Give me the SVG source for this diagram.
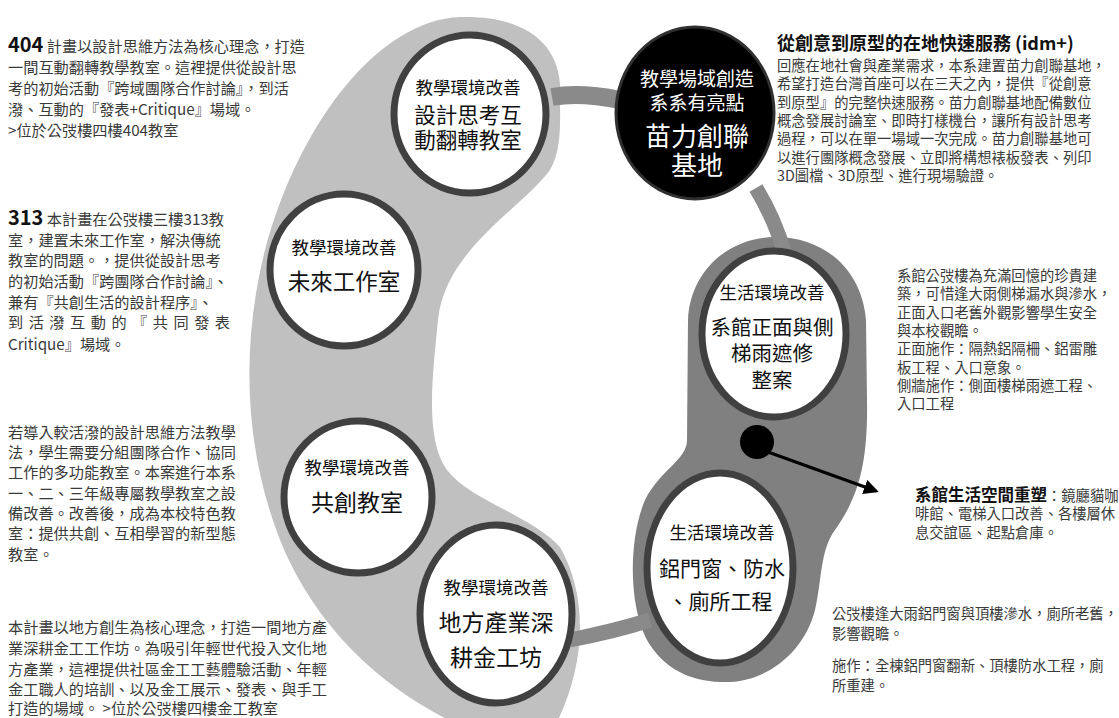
<svg xmlns="http://www.w3.org/2000/svg" width="1119" height="718" viewBox="0 0 1119 718">
<style>
text{font-family:"Noto Sans CJK TC","Noto Sans CJK SC",sans-serif;}
.body{font-size:15.2px;fill:#3a3a3a;}
.rb{font-size:14.3px;fill:#3a3a3a;}
.num{font-size:20px;font-weight:bold;fill:#111;}
.node{fill:#fff;stroke:#404040;stroke-width:7;}
.sub{font-size:17.5px;fill:#111;text-anchor:middle;}
.main{font-size:21.5px;fill:#111;text-anchor:middle;}
.wt{fill:#fff;text-anchor:middle;}
.conn{fill:none;stroke:#8a8a8a;stroke-linecap:butt;}
</style>
<defs>
<marker id="ah" viewBox="0 0 10 10" refX="8" refY="5" markerWidth="5" markerHeight="5" orient="auto"><path d="M0,0 L10,5 L0,10 z" fill="#000"/></marker>
</defs>
<rect width="1119" height="718" fill="#fff"/>
<g id="bands">
<path d="M560,100 C565,40 520,15 460,17 C380,20 300,120 265,250 C240,350 245,450 280,540 C320,640 400,700 470,730 L553,730 C585,670 590,600 560,547 C530,515 470,500 447,470 C425,440 432,380 438,320 C445,250 520,210 550,170 C562,150 560,120 560,100 Z" fill="#c0c0c0"/>
<path d="M775,237 C730,237 690,270 688,320 L687,440 C687,460 660,470 645,500 C628,540 628,610 650,645 C670,675 700,683 730,682 C770,680 805,650 815,610 C822,580 820,550 835,530 C860,495 868,460 867,400 L866,320 C862,270 825,237 775,237 Z" fill="#808080"/>
</g>
<g id="connectors">
<path class="conn" d="M552,97 C575,93 600,96 620,100" stroke-width="18"/>
<path class="conn" d="M756,188 C768,208 778,230 784,252" stroke-width="15"/>
<path class="conn" d="M570,640 C600,634 625,628 650,620" stroke-width="15" stroke="#7f7f7f"/>
<line x1="768" y1="452" x2="876" y2="491" stroke="#000" stroke-width="3" marker-end="url(#ah)"/>
</g>
<g id="node-404">
<ellipse class="node" cx="470" cy="114" rx="76" ry="79"/>
<text class="sub" x="468" y="94">教學環境改善</text>
<text class="main" x="468" y="123">設計思考互</text>
<text class="main" x="468" y="148">動翻轉教室</text>
</g>
<g id="node-313">
<ellipse class="node" cx="344" cy="270" rx="74" ry="76"/>
<text class="sub" x="344" y="254">教學環境改善</text>
<text class="main" x="344" y="290" style="font-size:22.5px">未來工作室</text>
</g>
<g id="node-cocreate">
<ellipse class="node" cx="358" cy="497" rx="74" ry="76"/>
<text class="sub" x="357" y="474">教學環境改善</text>
<text class="main" x="357" y="511" style="font-size:23px">共創教室</text>
</g>
<g id="node-metal">
<ellipse class="node" cx="496" cy="614" rx="76" ry="89"/>
<text class="sub" x="496" y="594">教學環境改善</text>
<text class="main" x="496" y="631" style="font-size:23px">地方產業深</text>
<text class="main" x="496" y="666" style="font-size:23px">耕金工坊</text>
</g>
<g id="node-idm">
<ellipse cx="695" cy="113" rx="79" ry="86" fill="#000" stroke="#303030" stroke-width="3"/>
<text class="wt" x="697" y="86" style="font-size:19px">教學場域創造</text>
<text class="wt" x="697" y="110" style="font-size:19px">系系有亮點</text>
<text class="wt" x="697" y="146" style="font-size:26px">苗力創聯</text>
<text class="wt" x="697" y="175" style="font-size:26px">基地</text>
</g>
<g id="node-facade">
<ellipse class="node" cx="774" cy="334" rx="72" ry="83"/>
<text class="sub" x="772" y="299">生活環境改善</text>
<text class="main" x="772" y="335" style="font-size:20.5px">系館正面與側</text>
<text class="main" x="772" y="361" style="font-size:20.5px">梯雨遮修</text>
<text class="main" x="772" y="388" style="font-size:20.5px">整案</text>
</g>
<g id="node-space">
<circle cx="757" cy="442" r="17" fill="#000"/>
</g>
<g id="node-window">
<ellipse class="node" cx="720" cy="568" rx="73" ry="95"/>
<text class="sub" x="722" y="539">生活環境改善</text>
<text class="main" x="722" y="576" style="font-size:21px">鋁門窗、防水</text>
<text class="main" x="720" y="609" style="font-size:21px">、廁所工程</text>
</g>
<g id="text-left">
<text class="body" x="8" y="52"><tspan class="num">404</tspan> 計畫以設計思維方法為核心理念，打造</text>
<text class="body" x="8" y="73">一間互動翻轉教學教室。這裡提供從設計思</text>
<text class="body" x="8" y="94">考的初始活動『跨域團隊合作討論』，到活</text>
<text class="body" x="8" y="115">潑、互動的『發表+Critique』場域。</text>
<text class="body" x="8" y="136">&gt;位於公弢樓四樓404教室</text>

<text class="body" x="8" y="225"><tspan class="num">313</tspan> 本計畫在公弢樓三樓313教</text>
<text class="body" x="8" y="246">室，建置未來工作室，解決傳統</text>
<text class="body" x="8" y="266">教室的問題。，提供從設計思考</text>
<text class="body" x="8" y="287">的初始活動『跨團隊合作討論』、</text>
<text class="body" x="8" y="308">兼有『共創生活的設計程序』、</text>
<text class="body" x="8" y="328" textLength="222" lengthAdjust="spacing">到活潑互動的『共同發表</text>
<text class="body" x="8" y="350">Critique』場域。</text>

<text class="body" x="8" y="438">若導入較活潑的設計思維方法教學</text>
<text class="body" x="8" y="458">法，學生需要分組團隊合作、協同</text>
<text class="body" x="8" y="478">工作的多功能教室。本案進行本系</text>
<text class="body" x="8" y="499">一、二、三年級專屬教學教室之設</text>
<text class="body" x="8" y="519">備改善。改善後，成為本校特色教</text>
<text class="body" x="8" y="539">室：提供共創、互相學習的新型態</text>
<text class="body" x="8" y="560">教室。</text>

<text class="body" x="8" y="633">本計畫以地方創生為核心理念，打造一間地方產</text>
<text class="body" x="8" y="654">業深耕金工工作坊。為吸引年輕世代投入文化地</text>
<text class="body" x="8" y="675">方產業，這裡提供社區金工工藝體驗活動、年輕</text>
<text class="body" x="8" y="695">金工職人的培訓、以及金工展示、發表、與手工</text>
<text class="body" x="8" y="714">打造的場域。 &gt;位於公弢樓四樓金工教室</text>
</g>
<g id="text-right">
<text x="777" y="50" style="font-size:18px;font-weight:bold;fill:#111">從創意到原型的在地快速服務 (idm+)</text>
<text class="rb" x="777" y="71">回應在地社會與產業需求，本系建置苗力創聯基地，</text>
<text class="rb" x="777" y="89">希望打造台灣首座可以在三天之內，提供『從創意</text>
<text class="rb" x="777" y="108">到原型』的完整快速服務。苗力創聯基地配備數位</text>
<text class="rb" x="777" y="126">概念發展討論室、即時打樣機台，讓所有設計思考</text>
<text class="rb" x="777" y="144">過程，可以在單一場域一次完成。苗力創聯基地可</text>
<text class="rb" x="777" y="163">以進行團隊概念發展、立即將構想裱板發表、列印</text>
<text class="rb" x="777" y="181">3D圖檔、3D原型、進行現場驗證。</text>

<text class="rb" x="897" y="281">系館公弢樓為充滿回憶的珍貴建</text>
<text class="rb" x="897" y="299">築，可惜逢大雨側梯漏水與滲水，</text>
<text class="rb" x="897" y="318">正面入口老舊外觀影響學生安全</text>
<text class="rb" x="897" y="336">與本校觀瞻。</text>
<text class="rb" x="897" y="354">正面施作：隔熱鋁隔柵、鋁雷雕</text>
<text class="rb" x="897" y="373">板工程、入口意象。</text>
<text class="rb" x="897" y="391">側牆施作：側面樓梯雨遮工程、</text>
<text class="rb" x="897" y="409">入口工程</text>

<text class="rb" x="915" y="501"><tspan style="font-size:16.5px;font-weight:bold;fill:#111">系館生活空間重塑</tspan>：鏡廳貓咖</text>
<text class="rb" x="915" y="519">啡館、電梯入口改善、各樓層休</text>
<text class="rb" x="915" y="538">息交誼區、起點倉庫。</text>

<text class="rb" x="832" y="619">公弢樓逢大雨鋁門窗與頂樓滲水，廁所老舊，</text>
<text class="rb" x="832" y="639">影響觀瞻。</text>
<text class="rb" x="832" y="671">施作：全棟鋁門窗翻新、頂樓防水工程，廁</text>
<text class="rb" x="832" y="691">所重建。</text>
</g>
</svg>
